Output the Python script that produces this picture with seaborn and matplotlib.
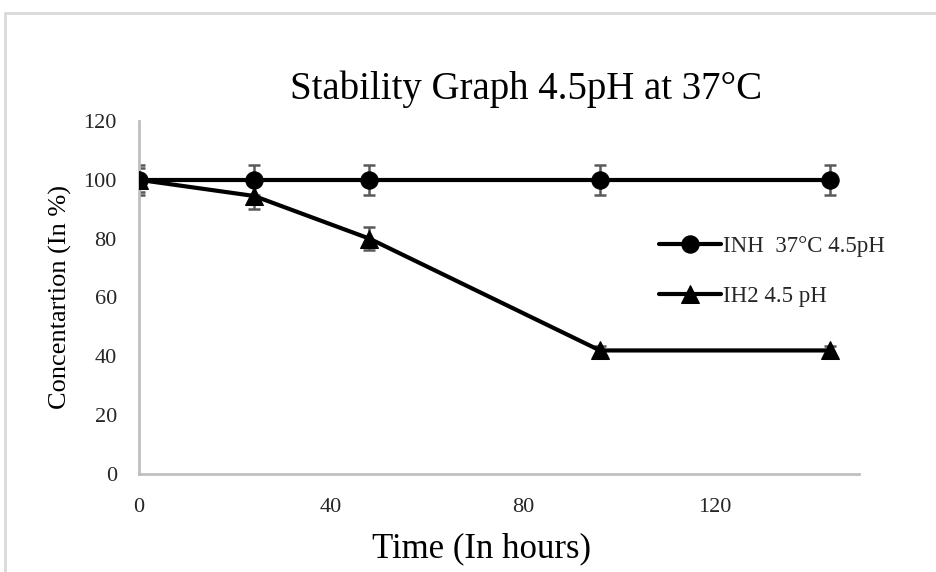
import matplotlib
matplotlib.use("Agg")
import matplotlib.pyplot as plt
import matplotlib.patches as mpatches
import seaborn as sns
import pandas as pd

# Data
time_h = [0, 24, 48, 96, 144]
inh_vals = [100, 100, 100, 100, 100]
inh_err = [5, 5, 5, 5, 5]
ih2_vals = [100, 94.5, 80, 42, 42]
ih2_err = [4, 4.5, 4, 1.5, 1.5]
series_names = ["INH  37°C 4.5pH", "IH2 4.5 pH"]
x_ticks = [0, 40, 80, 120]
y_ticks = [0, 20, 40, 60, 80, 100, 120]

sns.set_theme(style="white")
plt.rcParams["font.family"] = ["Liberation Serif", "DejaVu Serif"]

df = pd.DataFrame({
    "Time": time_h * 2,
    "Conc": inh_vals + ih2_vals,
    "Series": [series_names[0]] * len(time_h) + [series_names[1]] * len(time_h),
})

fig = plt.figure(figsize=(9.36, 5.72), dpi=100)
ax = fig.add_axes([0.1485, 0.1713, 0.7695, 0.6172])

# figure border (light gray, partially cropped)
fig.patches.append(mpatches.Rectangle((5 / 936, -0.05), 1.2, 1 - 13 / 572 + 0.05,
                                      transform=fig.transFigure, fill=False,
                                      edgecolor="#d9d9d9", linewidth=2.0, clip_on=False))

# error bars
ax.errorbar(time_h, inh_vals, yerr=inh_err, fmt="none", ecolor="#595959",
            elinewidth=1.8, capsize=4.5, capthick=1.8, zorder=1)
ax.errorbar(time_h, ih2_vals, yerr=ih2_err, fmt="none", ecolor="#595959",
            elinewidth=1.8, capsize=4.5, capthick=1.8, zorder=1)

sns.lineplot(data=df, x="Time", y="Conc", hue="Series", style="Series",
             markers={series_names[0]: "o", series_names[1]: "^"}, dashes=False,
             palette={series_names[0]: "black", series_names[1]: "black"},
             linewidth=3, markersize=12.5, markeredgecolor="black", ax=ax, zorder=3)

ax.set_xlim(0, 150)
ax.set_ylim(0, 120)
ax.set_xticks(x_ticks)
ax.set_yticks(y_ticks)
ax.tick_params(axis="both", length=0, labelsize=16, colors="#262626")
ax.tick_params(axis="x", pad=17)
ax.tick_params(axis="y", pad=16)
for s in ["top", "right"]:
    ax.spines[s].set_visible(False)
for s in ["left", "bottom"]:
    ax.spines[s].set_color("#bfbfbf")
    ax.spines[s].set_linewidth(2)

ax.set_xlabel("Time (In hours)", fontsize=25, color="black")
ax.xaxis.set_label_coords((481 - 139) / 720, -(549 - 474) / 353, transform=ax.transAxes)
ax.xaxis.label.set_va("center")
ax.set_ylabel("Concentartion (In %)", fontsize=19, color="black", labelpad=8)
ax.set_title("Stability Graph 4.5pH at 37°C", fontsize=28, color="black",
             x=(526 - 139) / 720, y=1.0, pad=16)

leg = ax.legend(loc="upper left", bbox_to_anchor=(638 / 936, 1 - 215 / 572),
                bbox_transform=fig.transFigure, frameon=False, fontsize=16.5,
                handlelength=2.7, handletextpad=0.1, labelspacing=1.3)

fig.savefig("out.png", dpi=100)
